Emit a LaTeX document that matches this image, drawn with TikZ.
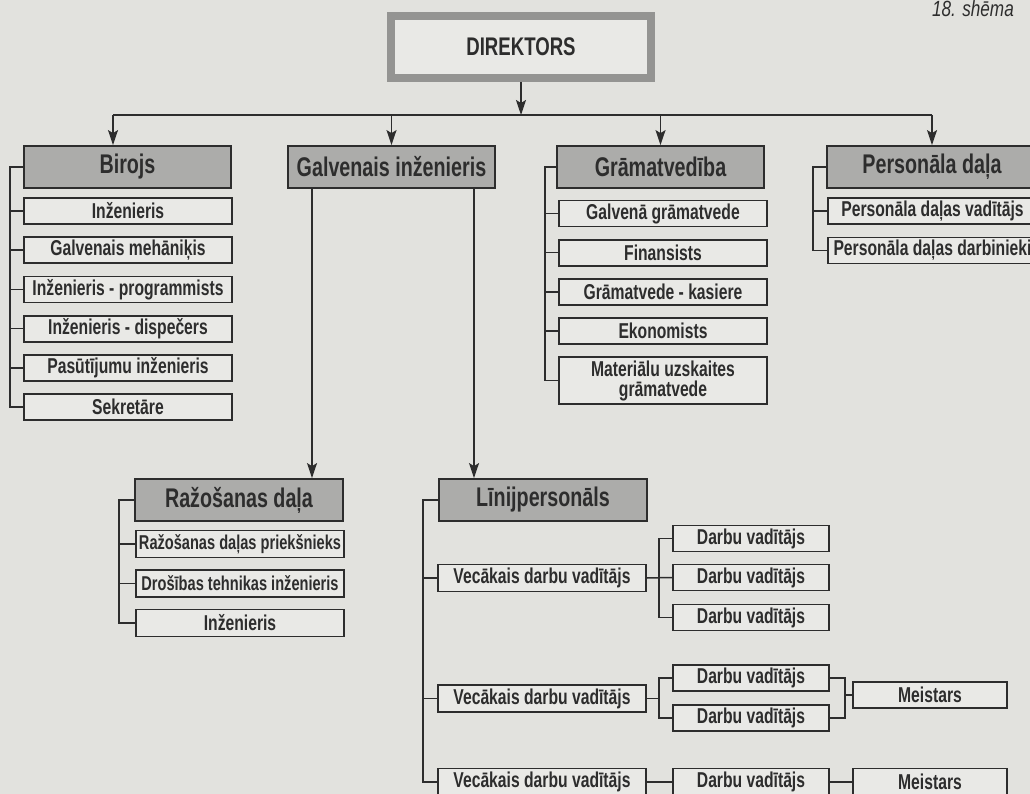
\documentclass[tikz,border=0pt]{standalone}
\usepackage{fontspec}
\setmainfont{Liberation Sans}[FakeStretch=0.78]
\newfontfamily\condfont{Liberation Sans Bold}[FakeStretch=0.73]
\usetikzlibrary{arrows.meta,positioning,calc}
\definecolor{paper}{RGB}{226,226,222}
\definecolor{boxfill}{RGB}{233,233,230}
\definecolor{ink}{RGB}{45,45,45}
\definecolor{headgray}{RGB}{172,172,170}
\definecolor{framegray}{RGB}{148,148,146}

\begin{document}
\begin{tikzpicture}[x=1pt,y=-1pt,>={Stealth[length=15pt,width=10pt,inset=3pt]},
  color=ink,line width=1.5pt,
  chief/.style={draw=framegray,line width=8pt,fill=boxfill,minimum width=260pt,minimum height=62pt,
    inner sep=0pt,text=ink,font=\condfont\fontsize{25.5}{27}\selectfont},
  head/.style={draw=ink,line width=1.8pt,fill=headgray,minimum width=207pt,minimum height=42pt,
    inner sep=0pt,text=ink,font=\condfont\fontsize{27}{30}\selectfont},
  post/.style={draw=ink,line width=1.8pt,fill=boxfill,minimum width=208pt,minimum height=26pt,
    inner sep=0pt,text=ink,font=\condfont\fontsize{21.5}{20}\selectfont},
  tight/.style={font=\condfont\fontsize{20}{18}\selectfont},
  work/.style={post,minimum width=156pt}]
  \useasboundingbox (0,0) rectangle (1030,794);
  \clip (0,0) rectangle (1030,794);
  \fill[paper] (0,0) rectangle (1030,794);
  \node[anchor=base west,font=\fontsize{22}{24}\selectfont\itshape] (title) at (928,17) {18. shēma};

  % top level
  \node[chief] (direktors) at (521,47) {DIREKTORS};
  \coordinate (busL) at (113,115);
  \coordinate (busR) at (932,115);
  \draw (busL) -- (busR);
  \draw[->] (direktors.south) -- (direktors.south |- busL);

  \node[head] (birojs) at (127.5,167) {Birojs};
  \node[head] (galv) at (391.5,167) {Galvenais inženieris};
  \node[head] (gram) at (660.5,167) {Grāmatvedība};
  \node[head,minimum width=210pt] (pers) at (932,167) {Personāla daļa};
  \draw[->] (busL) -- (busL |- birojs.north);
  \foreach \n in {galv,gram,pers}
    \draw[->] (\n.north |- busL) -- (\n.north);

  % Birojs
  \foreach \t [count=\i] in {Inženieris,Galvenais mehāniķis,Inženieris - programmists,
      Inženieris - dispečers,Pasūtījumu inženieris,Sekretāre}
    \node[post] (b\i) at (128,171.8+39.2*\i) {\t};
  \coordinate (bx) at ([xshift=-13pt]birojs.west);
  \draw (birojs.west) -- (bx) |- (b6.west);
  \foreach \i in {1,...,5}
    \draw (b\i.west) -- (b\i.west -| bx);

  % Gramatvediba
  \foreach \t [count=\i] in {Galvenā grāmatvede,Finansists,Grāmatvede - kasiere,Ekonomists}
    \node[post] (g\i) at (663,174.3+39.2*\i) {\t};
  \node[post,minimum height=47pt,align=center] (g5) at (663,380.5) {Materiālu uzskaites\\grāmatvede};
  \coordinate (gx) at ([xshift=-11pt]gram.west);
  \draw (gram.west) -- (gx) |- (g5.west);
  \foreach \i in {1,...,4}
    \draw (g\i.west) -- (g\i.west -| gx);

  % Personala dala
  \node[post,minimum width=209pt] (p1) at (932.5,211) {Personāla daļas vadītājs};
  \node[post,minimum width=209pt] (p2) at (932.5,250.5) {Personāla daļas darbinieki};
  \coordinate (px) at ([xshift=-13pt]pers.west);
  \draw (pers.west) -- (px) |- (p2.west);
  \draw (p1.west) -- (p1.west -| px);

  % Razosanas dala
  \node[head,minimum width=208pt] (raz) at (239,500) {Ražošanas daļa};
  \node[post,tight,minimum height=27pt] (r1) at (240,544) {Ražošanas daļas priekšnieks};
  \node[post,tight,minimum height=27pt] (r2) at (240,583.5) {Drošības tehnikas inženieris};
  \node[post,minimum height=27pt] (r3) at (240,623) {Inženieris};
  \coordinate (rx) at ([xshift=-15pt]raz.west);
  \draw (raz.west) -- (rx) |- (r3.west);
  \foreach \i in {1,2}
    \draw (r\i.west) -- (r\i.west -| rx);

  % Linijpersonals
  \node[head,minimum width=208pt] (lin) at (543,500) {Līnijpersonāls};
  \coordinate (gA) at ([xshift=-79.5pt]galv.south);
  \coordinate (gB) at ([xshift=82.5pt]galv.south);
  \draw[->] (gA) -- (gA |- raz.north);
  \draw[->] (gB) -- (gB |- lin.north);

  \node[post,minimum height=27pt] (v1) at (542,578) {Vecākais darbu vadītājs};
  \node[post,minimum height=27pt] (v2) at (542,698.5) {Vecākais darbu vadītājs};
  \node[post,minimum height=27pt] (v3) at (542,782) {Vecākais darbu vadītājs};
  \coordinate (lx) at ([xshift=-15pt]lin.west);
  \draw (lin.west) -- (lx) |- (v3.west);
  \foreach \i in {1,2}
    \draw (v\i.west) -- (v\i.west -| lx);

  \node[work] (d11) at (751,538.5) {Darbu vadītājs};
  \node[work] (d12) at (751,577.5) {Darbu vadītājs};
  \node[work] (d13) at (751,617.5) {Darbu vadītājs};
  \node[work] (d21) at (751,678) {Darbu vadītājs};
  \node[work] (d22) at (751,718) {Darbu vadītājs};
  \node[work,minimum height=27pt] (d31) at (751,782) {Darbu vadītājs};
  \node[work,minimum width=154pt] (m2) at (930,695) {Meistars};
  \node[work,minimum width=154pt,minimum height=27pt] (m3) at (930,782) {Meistars};

  % first group
  \coordinate (k1) at ([xshift=12pt]v1.east);
  \draw (v1.east) -- (d12.west);
  \draw (d11.west) -- (d11.west -| k1) -- (d13.west -| k1) -- (d13.west);
  % second group
  \coordinate (k2) at ([xshift=12pt]v2.east);
  \draw (v2.east) -- (k2);
  \draw (d21.west) -- (d21.west -| k2) -- (d22.west -| k2) -- (d22.west);
  \coordinate (k3) at ([xshift=15pt]d21.east);
  \draw (d21.east) -- (d21.east -| k3) -- (d22.east -| k3) -- (d22.east);
  \draw (m2.west) -- (m2.west -| k3);
  % third group
  \draw (v3.east) -- (d31.west);
  \draw (d31.east) -- (m3.west);
\end{tikzpicture}
\end{document}
